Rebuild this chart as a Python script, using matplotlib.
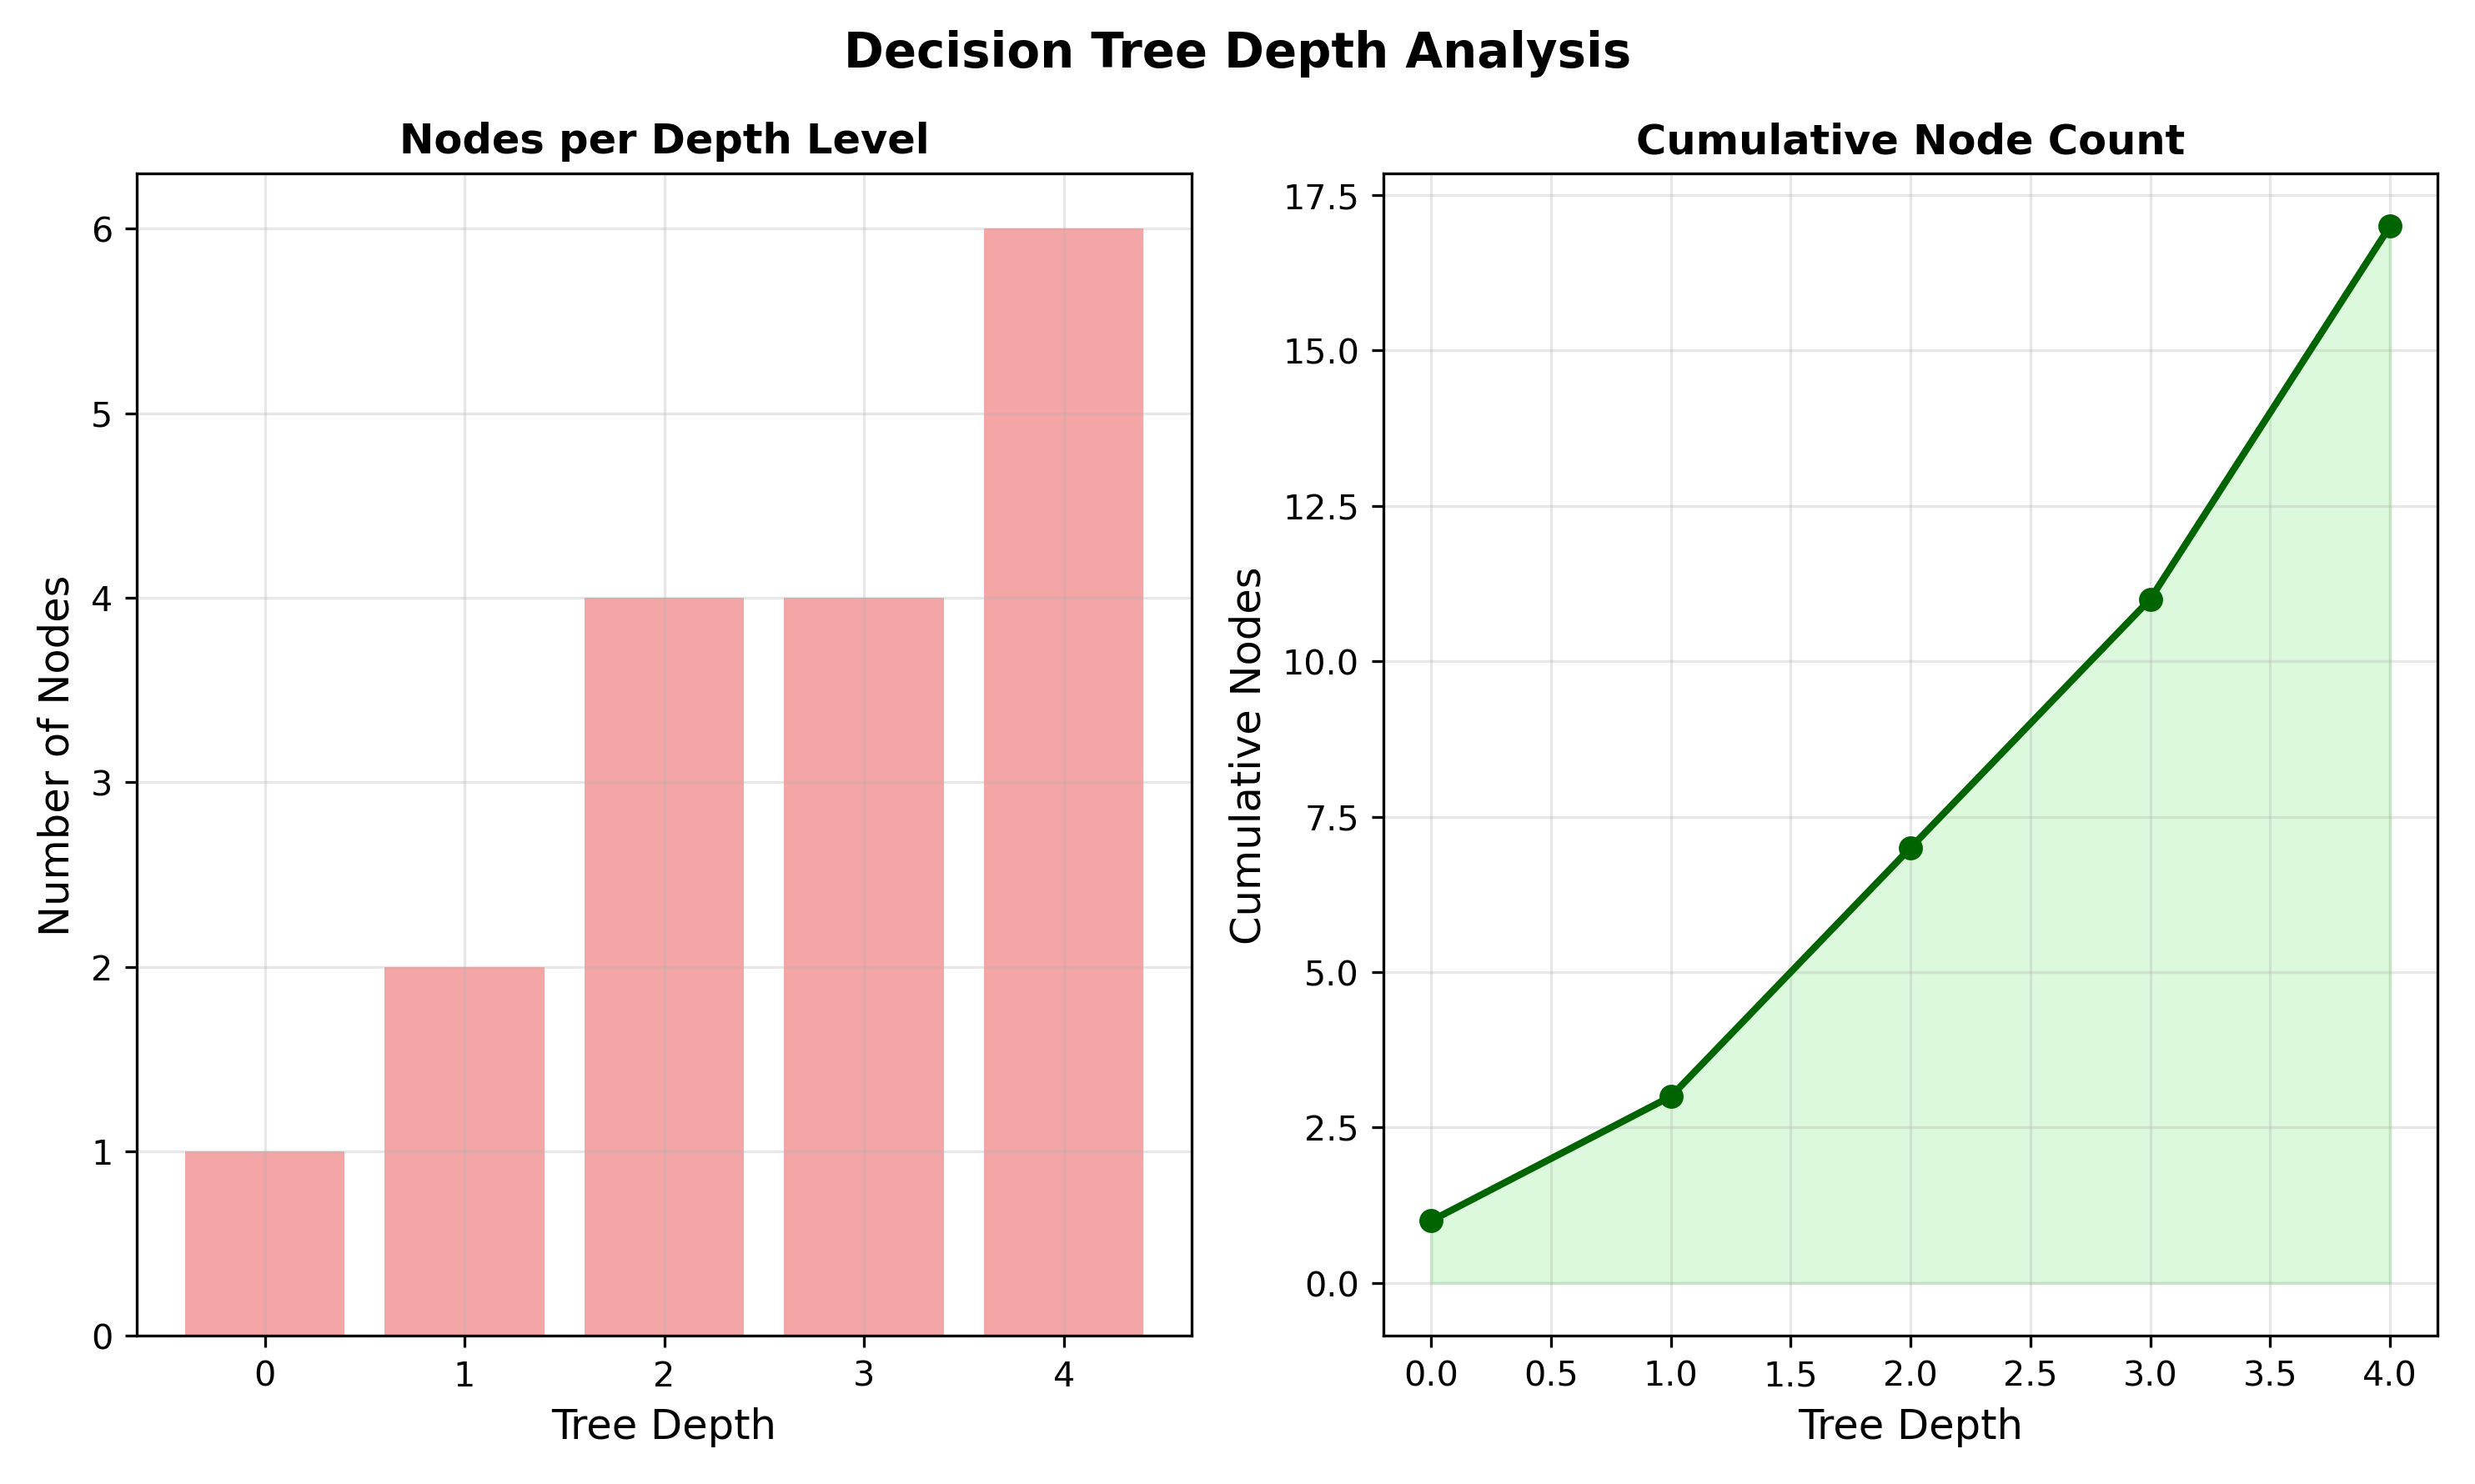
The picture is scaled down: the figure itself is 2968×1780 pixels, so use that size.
import matplotlib.pyplot as plt
import numpy as np

depths = [0, 1, 2, 3, 4]
nodes = [1, 2, 4, 4, 6]
cumulative = np.cumsum(nodes)

fig, (ax1, ax2) = plt.subplots(1, 2, figsize=(10, 6), dpi=296.8)
fig.suptitle("Decision Tree Depth Analysis", fontsize=14, fontweight='bold')

ax1.bar(depths, nodes, color='lightcoral', alpha=0.7)
ax1.set_title("Nodes per Depth Level", fontsize=12, fontweight='bold')
ax1.set_xlabel("Tree Depth", fontsize=12)
ax1.set_ylabel("Number of Nodes", fontsize=12)
ax1.grid(True, alpha=0.3)

ax2.plot(depths, cumulative, 'o-', color='darkgreen', linewidth=2, markersize=6)
ax2.fill_between(depths, cumulative, alpha=0.3, color='lightgreen')
ax2.set_title("Cumulative Node Count", fontsize=12, fontweight='bold')
ax2.set_xlabel("Tree Depth", fontsize=12)
ax2.set_ylabel("Cumulative Nodes", fontsize=12)
ax2.grid(True, alpha=0.3)

plt.tight_layout()
plt.savefig("out.png", dpi=296.8)
